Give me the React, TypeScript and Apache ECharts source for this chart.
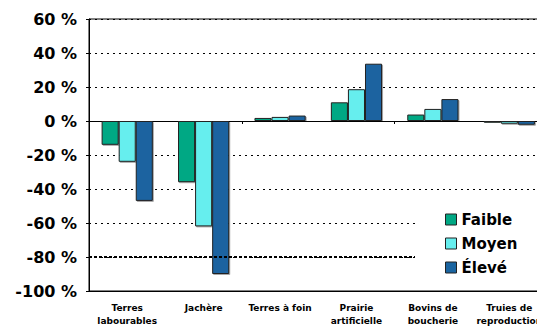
import React, { useEffect, useRef } from "react";
import * as echarts from "echarts";

const categories = [
  "Terres\nlabourables",
  "Jachère",
  "Terres à foin",
  "Prairie\nartificielle",
  "Bovins de\nboucherie",
  "Truies de\nreproduction",
];
const faible = [-14, -36, 1.8, 11, 3.8, -1];
const moyen = [-24, -62, 2.4, 18.7, 7.1, -1.6];
const eleve = [-47, -90, 3.2, 33.7, 12.9, -2.2];
const seriesNames = ["Faible", "Moyen", "Élevé"];
const colors = ["#00A884", "#66EEEE", "#1A64A0"];
const boldGridValue = -80;

export default function App() {
  const ref = useRef<HTMLDivElement>(null);
  useEffect(() => {
    const chart = echarts.init(ref.current!, null, { renderer: "svg" });
    const font = "DejaVu Sans";
    const mk = (name: string, data: number[], color: string, withMark: boolean) => ({
      name,
      type: "bar",
      data,
      barGap: "0%",
      barCategoryGap: "33%",
      itemStyle: {
        color,
        borderColor: "#222",
        borderWidth: 1,
        shadowColor: "rgba(0,0,0,0.35)",
        shadowOffsetX: 1,
        shadowOffsetY: 1,
        shadowBlur: 1,
      },
      ...(withMark
        ? {
            markLine: {
              silent: true,
              symbol: "none",
              label: { show: false },
              lineStyle: { color: "#000", type: [3, 2], width: 2 },
              data: [{ yAxis: boldGridValue }],
            },
          }
        : {}),
    });
    chart.setOption({
      animation: false,
      backgroundColor: "#fff",
      grid: {
        left: 89,
        top: 19,
        width: 458.5,
        height: 276,
        show: true,
        borderColor: "#000",
        borderWidth: 1,
        backgroundColor: "transparent",
      },
      legend: {
        z: 20,
        orient: "vertical",
        left: 415,
        top: 204,
        padding: [8, 40, 8, 30],
        backgroundColor: "#fff",
        itemWidth: 11,
        itemHeight: 11,
        itemGap: 9,
        icon: "rect",
        itemStyle: { borderColor: "#222", borderWidth: 1 },
        textStyle: { fontFamily: font, fontWeight: "bold", fontSize: 15, color: "#000" },
        data: seriesNames,
      },
      xAxis: [
        {
          type: "category",
          data: categories,
          position: "bottom",
          axisLine: { onZero: false, lineStyle: { color: "#000", width: 1 } },
          axisTick: { show: false },
          axisLabel: {
            interval: 0,
            margin: 10,
            fontFamily: font,
            fontWeight: "bold",
            fontSize: 9,
            lineHeight: 13,
            color: "#000",
          },
        },
        {
          type: "category",
          data: categories,
          position: "top",
          axisLine: { onZero: true, lineStyle: { color: "#000", width: 1 } },
          axisTick: { show: true, inside: true, length: 3, lineStyle: { color: "#000" } },
          axisLabel: { show: false },
        },
      ],
      yAxis: {
        type: "value",
        min: -100,
        max: 60,
        interval: 20,
        axisLine: { show: true, lineStyle: { color: "#000" } },
        axisTick: { show: true, length: 3, lineStyle: { color: "#000" } },
        splitLine: { show: true, lineStyle: { color: "#000", type: [2, 4], width: 1 } },
        axisLabel: {
          margin: 12,
          fontFamily: font,
          fontWeight: "bold",
          fontSize: 16,
          color: "#000",
          formatter: (v: number) => `${v} %`,
        },
      },
      series: [
        mk(seriesNames[0], faible, colors[0], true),
        mk(seriesNames[1], moyen, colors[1], false),
        mk(seriesNames[2], eleve, colors[2], false),
      ],
    });
    return () => chart.dispose();
  }, []);
  return (
    <div
      style={{ position: "absolute", left: 0, top: 0, width: 537, height: 327, overflow: "hidden", background: "#fff" }}
    >
      <div ref={ref} style={{ position: "absolute", left: 0, top: 0, width: 580, height: 327 }} />
    </div>
  );
}
